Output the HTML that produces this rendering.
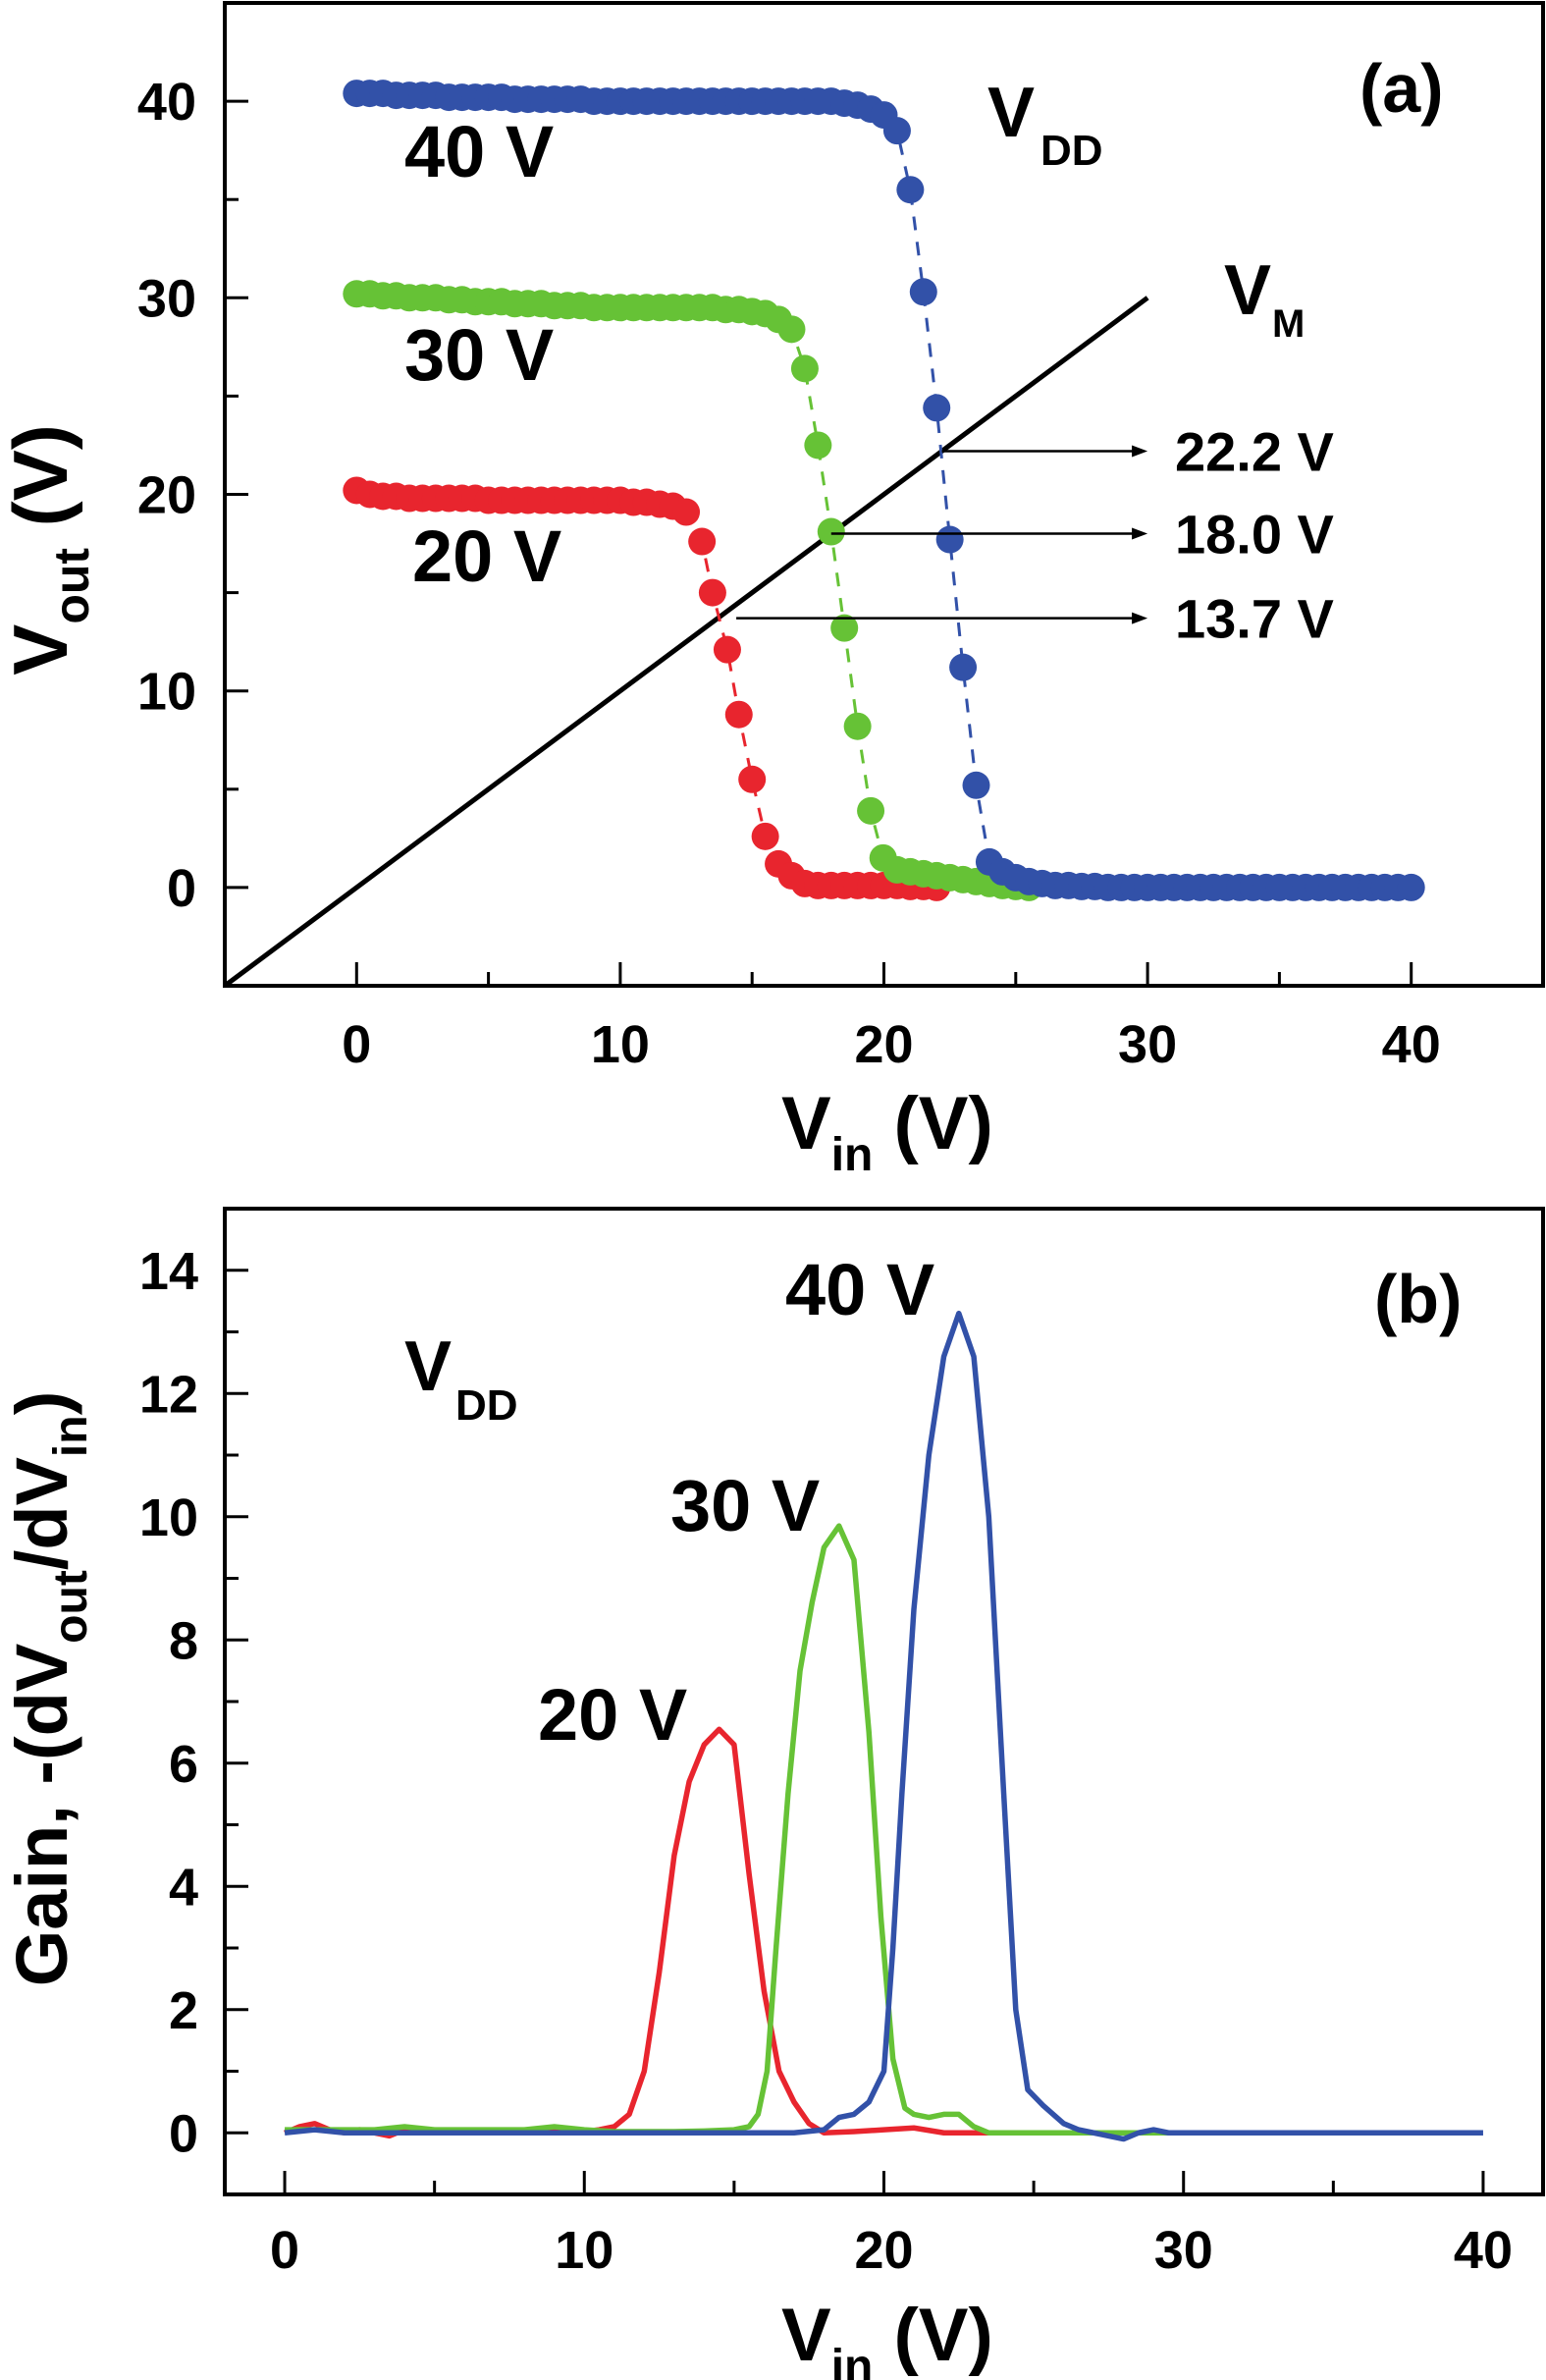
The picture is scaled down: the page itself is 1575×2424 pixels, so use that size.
<!DOCTYPE html>
<html><head><meta charset="utf-8"><style>
html,body{margin:0;padding:0;background:#fff;}
svg{display:block;font-family:"Liberation Sans",Arial,sans-serif;font-weight:bold;}
</style></head><body>
<svg id="fig" width="1575" height="2424" viewBox="0 0 1575 2424" xmlns="http://www.w3.org/2000/svg">
<g id="pa"></g>
<g id="pb"></g>
</svg>
<script>
// Panel (a) data: Vout vs Vin
const redX = [0,0.5,1,1.5,2,2.5,3,3.5,4,4.5,5,5.5,6,6.5,7,7.5,8,8.5,9,9.5,10,10.5,11,11.5,12,12.5,13.1,13.5,14.06,14.5,15.0,15.5,16.0,16.5,17,17.5,18,18.5,19,19.5,20,20.5,21,21.5,22];
const redY = [20.2,20.0,19.9,19.9,19.8,19.8,19.8,19.8,19.8,19.8,19.7,19.7,19.7,19.7,19.7,19.7,19.7,19.7,19.7,19.7,19.7,19.6,19.6,19.5,19.4,19.1,17.6,15.0,12.1,8.8,5.5,2.6,1.2,0.6,0.2,0.1,0.1,0.1,0.1,0.1,0.1,0.1,0.05,0.05,0];
const greenX = [0,0.5,1,1.5,2,2.5,3,3.5,4,4.5,5,5.5,6,6.5,7,7.5,8,8.5,9,9.5,10,10.5,11,11.5,12,12.5,13,13.5,14,14.5,15,15.5,16,16.5,17.0,17.5,18.0,18.5,19.0,19.5,19.97,20.5,21,21.5,22,22.5,23,23.5,24,24.5,25,25.5];
const greenY = [30.2,30.2,30.1,30.1,30.0,30.0,30.0,29.9,29.9,29.8,29.8,29.8,29.7,29.7,29.7,29.6,29.6,29.6,29.5,29.5,29.5,29.5,29.5,29.5,29.5,29.5,29.5,29.5,29.4,29.4,29.3,29.2,28.9,28.4,26.4,22.5,18.1,13.2,8.2,3.9,1.5,0.9,0.8,0.7,0.6,0.5,0.4,0.3,0.2,0.1,0.05,0];
const blueX = [0,0.5,1,1.5,2,2.5,3,3.5,4,4.5,5,5.5,6,6.5,7,7.5,8,8.5,9,9.5,10,10.5,11,11.5,12,12.5,13,13.5,14,14.5,15,15.5,16,16.5,17,17.5,18,18.5,19,19.5,20,20.5,21.0,21.5,22.0,22.5,23.0,23.5,24.0,24.5,25,25.5,26,26.5,27,27.5,28,28.5,29,29.5,30,30.5,31,31.5,32,32.5,33,33.5,34,34.5,35,35.5,36,36.5,37,37.5,38,38.5,39,39.5,40];
const blueY = [40.4,40.4,40.4,40.3,40.3,40.3,40.3,40.2,40.2,40.2,40.2,40.2,40.1,40.1,40.1,40.1,40.1,40.1,40.0,40.0,40.0,40.0,40.0,40.0,40.0,40.0,40.0,40.0,40.0,40.0,40.0,40.0,40.0,40.0,40.0,40.0,40.0,39.9,39.8,39.6,39.3,38.5,35.5,30.3,24.4,17.7,11.2,5.2,1.3,0.8,0.5,0.3,0.2,0.1,0.1,0.05,0.05,0,0,0,0,0,0,0,0,0,0,0,0,0,0,0,0,0,0,0,0,0,0,0,0];
const vmLabels = ["22.2 V","18.0 V","13.7 V"];
const vmVals = [22.2,18.0,13.7];
const vmStartX = [22.2,18.0,14.4];
const aXTicks = [0,10,20,30,40];
const aYTicks = [0,10,20,30,40];

// Panel (b) data: Gain vs Vin
const gRedX = [0,0.5,1,1.5,2,2.5,3,3.5,4,5,6,7,8,9,10,10.5,11,11.5,12,12.5,13,13.5,14,14.5,15,15.5,16,16.5,17,17.5,18,19,20,21,22,23,24];
const gRedY = [0,0.1,0.15,0.05,0,0.05,0,-0.05,0.05,0,0,0,0,0.02,0.02,0.05,0.1,0.3,1.0,2.6,4.5,5.7,6.3,6.55,6.3,4.2,2.3,1.0,0.5,0.15,0,0.02,0.05,0.08,0,0,0];
const gGreenX = [0,1,2,3,4,5,6,7,8,9,10,11,12,13,14,15,15.5,15.8,16.1,16.4,16.8,17.2,17.6,18.0,18.5,19.0,19.5,19.9,20.3,20.7,21,21.5,22,22.5,23,23.5,24,25,26,27,28,29,30];
const gGreenY = [0.05,0.05,0.05,0.05,0.1,0.05,0.05,0.05,0.05,0.1,0.05,0.02,0.02,0.02,0.03,0.05,0.1,0.3,1.0,3.0,5.5,7.5,8.6,9.5,9.85,9.3,6.5,3.5,1.2,0.4,0.3,0.25,0.3,0.3,0.1,0,0,0,0,0,0,0,0];
const gBlueX = [0,1,2,4,6,8,10,12,14,16,17,18,18.5,19,19.5,20,20.3,20.6,21,21.5,22,22.5,23,23.5,24,24.4,24.8,25.3,26,26.5,27,27.5,28,28.5,29,29.5,30,32,35,38,40];
const gBlueY = [0,0.05,0,0,0,0,0,0,0,0,0,0.05,0.25,0.3,0.5,1.0,3.0,5.5,8.5,11.0,12.6,13.3,12.6,10.0,5.5,2.0,0.7,0.45,0.15,0.05,0,-0.05,-0.1,0,0.05,0,0,0,0,0,0];
const bXTicks = [0,10,20,30,40];
const bYTicks = [0,2,4,6,8,10,12,14];

const NS="http://www.w3.org/2000/svg";
function mk(parent,tag,attrs,text){const e=document.createElementNS(NS,tag);for(const k in attrs)e.setAttribute(k,attrs[k]);if(text!==undefined)e.textContent=text;parent.appendChild(e);return e;}

const BLUE="#3251a8", GREEN="#66c236", RED="#e8252e";

// ---------- Panel (a) ----------
const A={L:229,R:1572,T:3,B:1004,x0:-5,x1:45,y0:-5,y1:45};
const ax=v=>A.L+(v-A.x0)/(A.x1-A.x0)*(A.R-A.L);
const ay=v=>A.B-(v-A.y0)/(A.y1-A.y0)*(A.B-A.T);
const pa=document.getElementById('pa');
{
const f=mk(pa,'rect',{x:A.L,y:A.T,width:A.R-A.L,height:A.B-A.T,fill:'none',stroke:'#000','stroke-width':4});


for(let v=0;v<=45;v+=5){const t=mk(pa,'line',{x1:ax(v),x2:ax(v),y1:A.B,y2:A.B-(v%10===0?24:14),stroke:'#000','stroke-width':3});

}
for(let v=-5;v<=45;v+=5){if(v===-5)continue;const t=mk(pa,'line',{x1:A.L,x2:A.L+(v%10===0?24:14),y1:ay(v),y2:ay(v),stroke:'#000','stroke-width':3});

}
aXTicks.forEach(v=>{const t=mk(pa,'text',{x:ax(v),y:1082,'text-anchor':'middle','font-size':54},String(v));

});
aYTicks.forEach(v=>{const t=mk(pa,'text',{x:200,y:ay(v)+19,'text-anchor':'end','font-size':54},String(v));

});
const vm=mk(pa,'line',{x1:ax(-5),y1:ay(-5),x2:ax(30),y2:ay(30),stroke:'#000','stroke-width':5});


function series(xs,ys,col,name){
 const g=mk(pa,'g',{});
 
 
 mk(g,'polyline',{points:xs.map((x,i)=>ax(x)+','+ay(ys[i])).join(' '),fill:'none',stroke:col,'stroke-width':3,'stroke-dasharray':'14,12'});
 xs.forEach((x,i)=>{const c=mk(g,'circle',{cx:ax(x),cy:ay(ys[i]),r:14,fill:col});
 
 });
}
series(redX,redY,RED,'series-20v');
series(greenX,greenY,GREEN,'series-30v');
series(blueX,blueY,BLUE,'series-40v');
vmVals.forEach((v,i)=>{
 const l=mk(pa,'line',{x1:ax(vmStartX[i]),y1:ay(v),x2:ax(30)-14,y2:ay(v),stroke:'#000','stroke-width':2.5});
 
 
 const h=mk(pa,'polygon',{points:`${ax(30)},${ay(v)} ${ax(30)-16},${ay(v)-6} ${ax(30)-16},${ay(v)+6}`,fill:'#000'});
 
 
 const t=mk(pa,'text',{x:1197,y:ay(v)+20,'font-size':56},vmLabels[i]);
 
 
});
}
// ---------- Panel (b) ----------
const B={L:229,R:1572,T:1231,B:2235,x0:-2,x1:42,y0:-1,y1:15};
const bx=v=>B.L+(v-B.x0)/(B.x1-B.x0)*(B.R-B.L);
const by=v=>B.B-(v-B.y0)/(B.y1-B.y0)*(B.B-B.T);
const pb=document.getElementById('pb');
{
const f=mk(pb,'rect',{x:B.L,y:B.T,width:B.R-B.L,height:B.B-B.T,fill:'none',stroke:'#000','stroke-width':4});


for(let v=0;v<=40;v+=5){const t=mk(pb,'line',{x1:bx(v),x2:bx(v),y1:B.B,y2:B.B-(v%10===0?24:14),stroke:'#000','stroke-width':3});

}
for(let v=0;v<=14;v+=1){const t=mk(pb,'line',{x1:B.L,x2:B.L+(v%2===0?24:14),y1:by(v),y2:by(v),stroke:'#000','stroke-width':3});

}
bXTicks.forEach(v=>{const t=mk(pb,'text',{x:bx(v),y:2310,'text-anchor':'middle','font-size':54},String(v));

});
bYTicks.forEach(v=>{const t=mk(pb,'text',{x:202,y:by(v)+19,'text-anchor':'end','font-size':54},String(v));

});
function line(xs,ys,col,name){
 const p=mk(pb,'polyline',{points:xs.map((x,i)=>bx(x)+','+by(ys[i])).join(' '),fill:'none',stroke:col,'stroke-width':5.5,'stroke-linejoin':'round'});
 
 
}
line(gRedX,gRedY,RED,'gain-20v');
line(gGreenX,gGreenY,GREEN,'gain-30v');
line(gBlueX,gBlueY,BLUE,'gain-40v');
}
</script>
<div style="position:absolute;left:0;top:0;width:1575px;height:2424px;pointer-events:none">
<svg width="1575" height="2424" style="font-family:'Liberation Sans',Arial,sans-serif;font-weight:bold">
<text x="412" y="180" font-size="74">40 V</text>
<text x="412" y="387" font-size="74">30 V</text>
<text x="420" y="592" font-size="74">20 V</text>
<text x="1385" y="114" font-size="70">(a)</text>
<text x="1006" y="139" font-size="72">V<tspan x="1060" y="168" font-size="44">DD</tspan></text>
<text x="1247" y="320" font-size="72">V<tspan x="1296" y="343" font-size="40">M</tspan></text>
<text x="796" y="1170" font-size="76">V<tspan font-size="48" dy="22">in</tspan><tspan dy="-22"> (V)</tspan></text>
<text transform="translate(68,560) rotate(-90)" text-anchor="middle" font-size="78">V<tspan font-size="50" dy="22">out</tspan><tspan dy="-22"> (V)</tspan></text>
<text x="800" y="1339" font-size="74">40 V</text>
<text x="683" y="1559" font-size="74">30 V</text>
<text x="548" y="1772" font-size="74">20 V</text>
<text x="1400" y="1347" font-size="70">(b)</text>
<text x="412" y="1416" font-size="72">V<tspan x="464" y="1446" font-size="44">DD</tspan></text>
<text x="796" y="2404" font-size="76">V<tspan font-size="48" dy="22">in</tspan><tspan dy="-22"> (V)</tspan></text>
<text transform="translate(68,1720) rotate(-90)" text-anchor="middle" font-size="74">Gain, -(dV<tspan font-size="48" dy="20">out</tspan><tspan dy="-20">/dV</tspan><tspan font-size="48" dy="20">in</tspan><tspan dy="-20">)</tspan></text>
</svg>
</div>
</body></html>
